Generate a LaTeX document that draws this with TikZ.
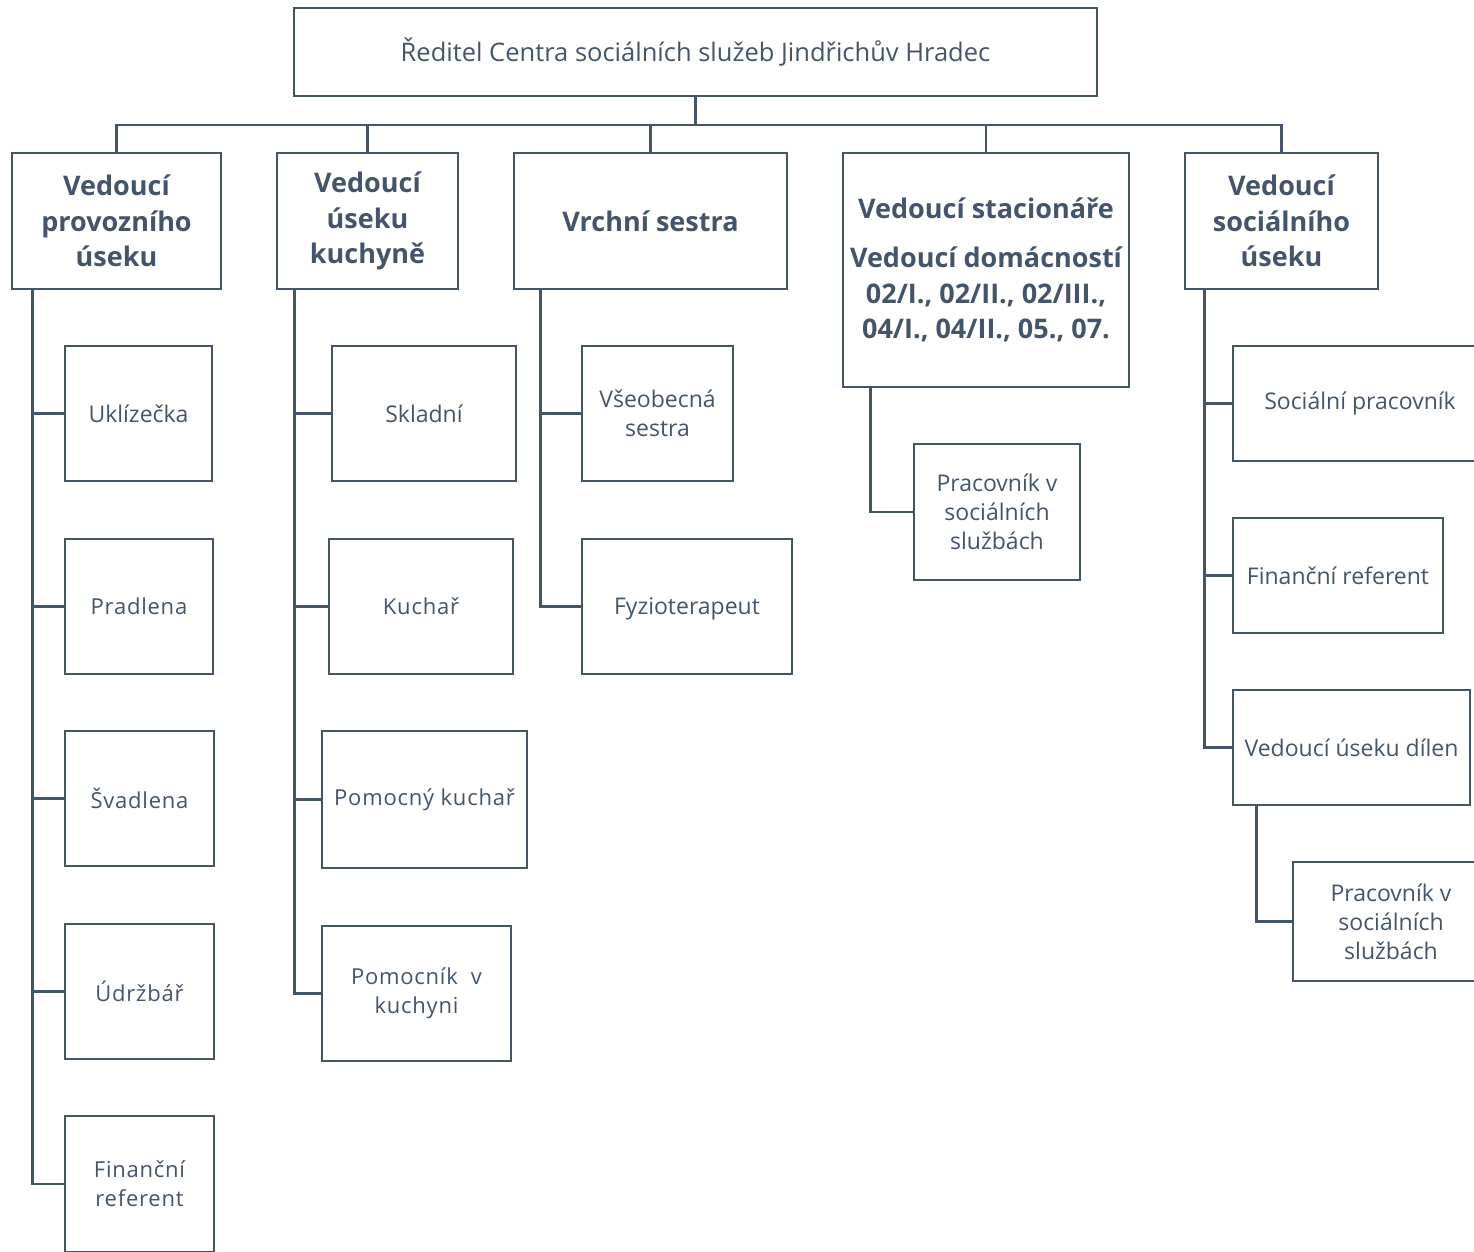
\documentclass[tikz,border=0pt]{standalone}
\usepackage{fontspec}
\setmainfont{Open Sans}
\definecolor{ink}{RGB}{68,84,106}
\tikzset{
  x=1pt, y=-1pt,
  box/.style={draw=ink, line width=2.7pt, text=ink, align=center, inner sep=0pt,
    font=\fontsize{23}{29}\selectfont},
  wide/.style={box, font=\fontsize{22}{29}\selectfont\addfontfeatures{LetterSpace=3.5}},
  head/.style={box, font=\fontsize{27}{35.5}\selectfont\bfseries},
  topbox/.style={box, font=\fontsize{25.5}{30}\selectfont},
  link/.style={draw=ink, line width=2.7pt},
}
\begin{document}
\begin{tikzpicture}
\useasboundingbox (0,0) rectangle (1474,1251);
% top
\node[topbox, minimum width=803, minimum height=88] (top) at (695.5,52) {Ředitel Centra sociálních služeb Jindřichův Hradec};
% level 1
\node[head, minimum width=209, minimum height=136] (a) at (116.5,221) {Vedoucí\\provozního\\úseku};
\node[head, minimum width=181, minimum height=136] (b) at (367.5,221) {Vedoucí\\úseku\\kuchyně};
\node[head, minimum width=273, minimum height=136] (c) at (650.5,221) {Vrchní sestra};
\node[head, minimum width=286, minimum height=234] (d) at (986,270) {Vedoucí stacionáře\\[14pt]Vedoucí domácností\\02/I., 02/II., 02/III.,\\04/I., 04/II., 05., 07.};
\node[head, minimum width=193, minimum height=136] (e) at (1281.5,221) {Vedoucí\\sociálního\\úseku};
% bus
\coordinate (bus) at (695.5,125);
\draw[link] (top.south) -- (bus);
\draw[link] (a.north) |- (bus) -| (e.north);
\draw[link] (b.north) -- (b.north |- bus);
\draw[link] (c.north) -- (c.north |- bus);
\draw[link] (d.north) -- (d.north |- bus);
% column a
\node[box, minimum width=147, minimum height=135] (a1) at (138.5,413.5) {Uklízečka};
\node[wide, minimum width=148, minimum height=135] (a2) at (139,606.5) {Pradlena};
\node[wide, minimum width=149, minimum height=135] (a3) at (139.5,798.5) {Švadlena};
\node[wide, minimum width=149, minimum height=135] (a4) at (139.5,991.5) {Údržbář};
\node[wide, minimum width=149, minimum height=136] (a5) at (139.5,1184) {Finanční\\referent};
\foreach \n in {a1,a2,a3,a4,a5} \draw[link] ([xshift=22pt]a.south west) |- (\n.west);
% column b
\node[box, minimum width=184, minimum height=135] (b1) at (424,413.5) {Skladní};
\node[wide, minimum width=184, minimum height=135] (b2) at (421,606.5) {Kuchař};
\node[wide, minimum width=205, minimum height=137] (b3) at (424.5,799.5) {Pomocný kuchař};
\node[wide, minimum width=189, minimum height=135] (b4) at (416.5,993.5) {Pomocník~~v\\kuchyni};
\foreach \n in {b1,b2,b3,b4} \draw[link] ([xshift=19pt]b.south west) |- (\n.west);
% column c
\node[box, minimum width=151, minimum height=135] (c1) at (657.5,413.5) {Všeobecná\\sestra};
\node[box, minimum width=210, minimum height=135, text depth=0pt] (c2) at (687,606.5) {Fyzioterapeut};
\foreach \n in {c1,c2} \draw[link] ([xshift=28pt]c.south west) |- (\n.west);
% column d
\node[box, minimum width=166, minimum height=136] (d1) at (997,512) {Pracovník v\\sociálních\\službách};
\draw[link] ([xshift=29pt]d.south west) |- (d1.west);
% column e
\node[box, minimum width=254, minimum height=115] (e1) at (1360,403.5) {Sociální pracovník};
\node[box, minimum width=210, minimum height=115] (e2) at (1338,575.5) {Finanční referent};
\node[box, minimum width=237, minimum height=115] (e3) at (1351.5,747.5) {Vedoucí úseku dílen};
\node[box, minimum width=196, minimum height=119] (e4) at (1391,921.5) {Pracovník v\\sociálních\\službách};
\foreach \n in {e1,e2,e3} \draw[link] ([xshift=21pt]e.south west) |- (\n.west);
\draw[link] ([xshift=25pt]e3.south west) |- (e4.west);
\end{tikzpicture}
\end{document}
